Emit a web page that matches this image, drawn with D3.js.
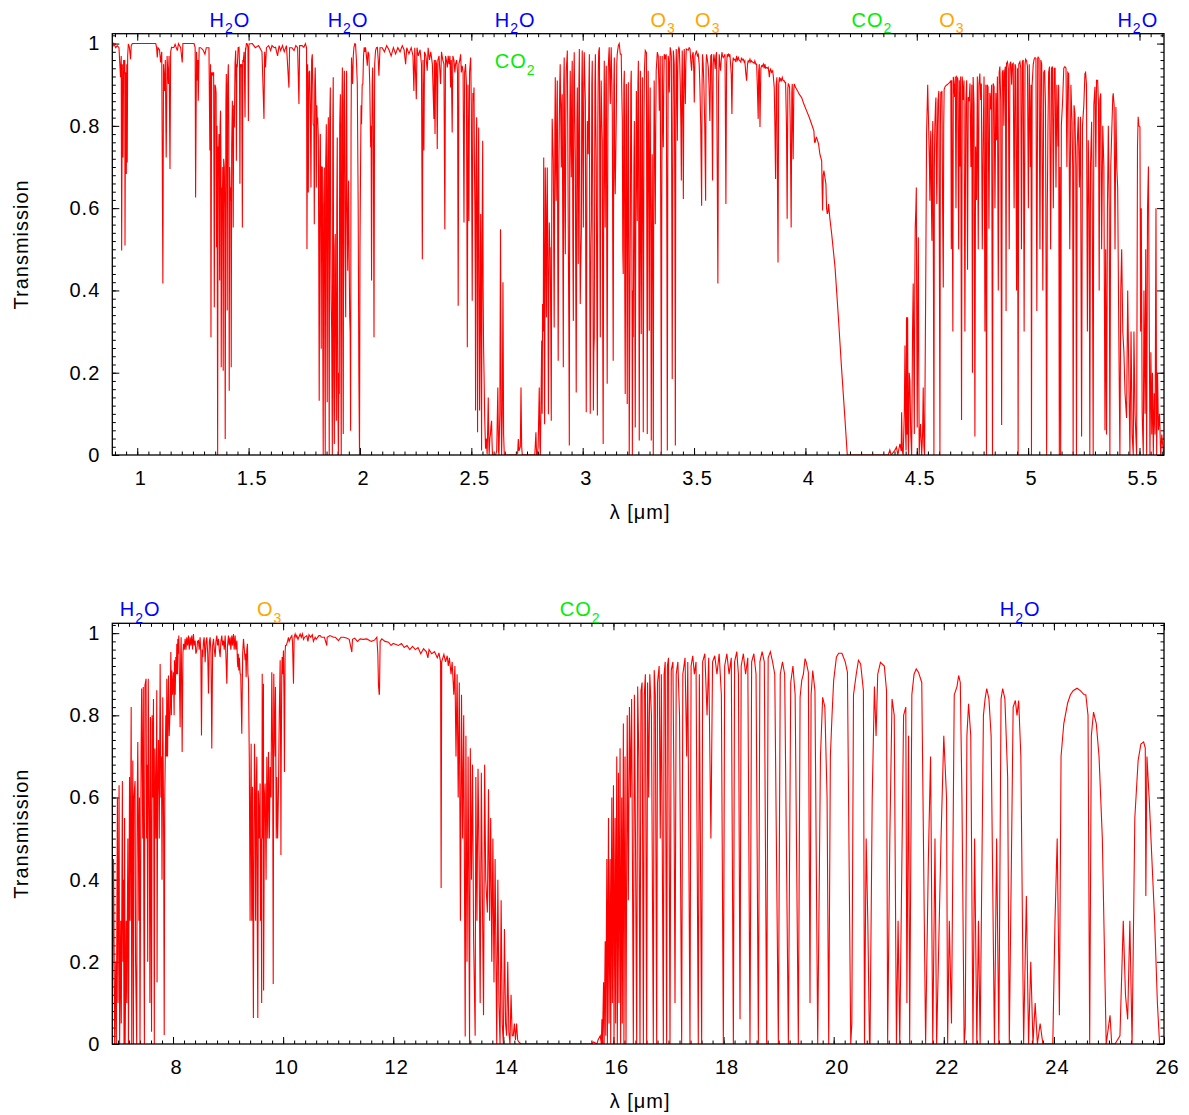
<!DOCTYPE html>
<html>
<head>
<meta charset="utf-8">
<script src="https://cdn.jsdelivr.net/npm/d3@7"></script>
<style>
body { margin: 0; background: #fff; }
text { font-family: "Liberation Sans", Arial, Helvetica, sans-serif; letter-spacing: 1px; }
</style>
</head>
<body>
<script>
// ---- Data: [wavelength (um), transmission] ----
var topBand1 = [
 [0.888,0.99],[0.895,1.0],[0.903,0.99],[0.910,0.995],[0.918,0.99],[0.921,0.958],[0.925,0.918],[0.928,0.97],[0.930,0.497],[0.933,0.95],
 [0.936,0.723],[0.939,0.96],[0.942,0.926],[0.944,0.96],[0.945,0.509],[0.948,0.93],[0.951,0.683],[0.953,0.95],[0.955,0.711],[0.957,0.97],
 [0.960,0.999],[0.965,0.99],[0.970,0.962],[0.973,0.995],[0.978,1.0],[1.038,1.0],[1.083,1.0],[1.087,0.99],[1.090,0.966],[1.093,0.99],
 [1.100,0.985],[1.105,0.954],[1.110,0.98],[1.115,0.417],[1.118,0.95],[1.123,0.885],[1.126,0.96],[1.130,0.723],[1.134,0.97],[1.139,0.902],
 [1.143,0.97],[1.147,0.695],[1.150,0.98],[1.154,0.991],[1.160,0.99],[1.165,0.991],[1.170,0.998],[1.180,0.983],[1.185,1.0],[1.195,0.99],
 [1.202,0.954],[1.205,1.0],[1.255,1.0],[1.260,0.99],[1.262,0.626],[1.266,0.98],[1.270,0.91],[1.272,0.96],[1.274,0.861],[1.278,0.99],
 [1.285,0.99],[1.295,0.985],[1.304,0.974],[1.310,0.99],[1.322,0.99],[1.326,0.740],[1.329,0.95],[1.331,0.286],[1.334,0.93],[1.337,0.926],
 [1.339,0.93],[1.341,0.922],[1.343,0.93],[1.346,0.359],[1.349,0.90],[1.352,0.893],[1.354,0.88],[1.356,0.505],[1.358,0.80],[1.361,0],
 [1.363,0.75],[1.365,0.715],[1.367,0.78],[1.370,0.424],[1.372,0.80],[1.374,0.837],[1.376,0.70],[1.377,0.213],[1.380,0.65],[1.382,0.594],
 [1.384,0.70],[1.386,0.205],[1.388,0.72],[1.391,0.699],[1.393,0.60],[1.395,0.039],[1.398,0.85],[1.400,0.926],[1.402,0.80],[1.404,0.351],
 [1.406,0.90],[1.409,0.950],[1.411,0.80],[1.413,0.156],[1.415,0.70],[1.418,0.618],[1.420,0.65],[1.422,0.213],[1.424,0.75],[1.427,0.861],
 [1.429,0.75],[1.431,0.553],[1.433,0.85],[1.436,0.796],[1.439,0.95],[1.442,0.983],[1.444,0.90],[1.445,0.715],[1.447,0.95],[1.449,0.942],
 [1.453,0.99],[1.457,0.991],[1.459,0.95],[1.461,0.659],[1.463,0.95],[1.466,0.942],[1.469,0.95],[1.472,0.553],[1.474,0.96],[1.476,0.958],
 [1.480,0.98],[1.484,0.821],[1.486,0.99],[1.487,0.983],[1.490,1.0],[1.494,0.999],[1.497,0.99],[1.499,0.812],[1.501,0.99],[1.502,0.999],
 [1.517,1.0],[1.530,0.99],[1.545,0.995],[1.560,0.98],[1.569,0.817],[1.572,0.98],[1.576,0.942],[1.580,0.99],[1.590,0.995],[1.599,0.983],
 [1.605,0.995],[1.615,0.99],[1.621,0.991],[1.630,0.97],[1.637,0.995],[1.644,0.983],[1.652,0.995],[1.660,0.98],[1.670,0.995],[1.681,0.893],
 [1.684,0.99],[1.695,0.99],[1.704,0.983],[1.712,0.995],[1.720,0.99],[1.726,0.853],[1.729,0.995],[1.740,0.995],[1.748,0.991],[1.755,1.0],
 [1.760,0.99],[1.762,0.501],[1.765,0.95],[1.768,0.638],[1.771,0.93],[1.774,0.934],[1.777,0.85],[1.780,0.650],[1.783,0.96],[1.786,0.974],
 [1.788,0.90],[1.790,0.804],[1.793,0.80],[1.795,0.561],[1.797,0.90],[1.799,0.942],[1.802,0.85],[1.804,0.650],[1.806,0.85],[1.808,0.804],
 [1.810,0.82],[1.813,0.772],[1.815,0.5],[1.817,0.132],[1.820,0.70],[1.822,0.780],[1.824,0.6],[1.826,0.258],[1.828,0.7],[1.831,0.699],
 [1.833,0.3],[1.835,0],[1.837,0.6],[1.840,0.699],[1.842,0.3],[1.844,0],[1.846,0.7],[1.849,0.804],[1.851,0.4],[1.853,0.128],
 [1.855,0.7],[1.858,0.821],[1.860,0.4],[1.862,0],[1.864,0.8],[1.867,0.893],[1.869,0.5],[1.871,0.375],[1.873,0.3],[1.876,0],
 [1.878,0.8],[1.880,0.918],[1.882,0.2],[1.885,0.027],[1.887,0.5],[1.889,0.537],[1.891,0.3],[1.894,0.083],[1.896,0.6],[1.898,0.772],
 [1.900,0.2],[1.903,0],[1.905,0.2],[1.907,0.148],[1.909,0.8],[1.912,0.877],[1.914,0.3],[1.916,0],[1.918,0.8],[1.921,0.942],
 [1.923,0.3],[1.925,0.051],[1.927,0.85],[1.930,0.934],[1.933,0.5],[1.936,0.335],[1.938,0.8],[1.940,0.934],[1.942,0.6],[1.945,0.448],
 [1.947,0.6],[1.949,0.667],[1.951,0.5],[1.954,0.335],[1.956,0.3],[1.958,0.059],[1.960,0.8],[1.962,0.966],[1.965,0.93],[1.967,0.902],
 [1.970,0.97],[1.973,0.991],[1.977,1.0],[1.980,0.999],[1.984,0.96],[1.988,0.902],[1.992,0.6],[1.995,0.2],[1.998,0],[2.000,0.5],
 [2.003,0.723],[2.005,0.85],[2.007,0.804],[2.010,0.9],[2.013,0.902],[2.016,0.97],[2.019,0.991],[2.022,0.98],[2.025,0.991],[2.029,0.97],
 [2.033,0.946],[2.036,0.98],[2.040,0.974],[2.044,0.9],[2.048,0.748],[2.050,0.8],[2.052,0.424],[2.055,0.9],[2.057,0.942],[2.060,0.8],
 [2.063,0.286],[2.066,0.95],[2.070,0.983],[2.074,0.99],[2.078,0.991],[2.082,0.96],[2.085,0.922],[2.090,0.99],[2.100,0.99],[2.110,0.98],
 [2.120,0.995],[2.130,0.985],[2.140,0.97],[2.150,0.99],[2.160,0.975],[2.170,0.99],[2.180,0.98],[2.190,0.995],[2.198,0.985],[2.205,0.950],
 [2.210,0.99],[2.220,0.975],[2.230,0.99],[2.238,0.97],[2.242,0.885],[2.246,0.99],[2.253,0.865],[2.256,0.99],[2.262,0.97],[2.270,0.985],
 [2.276,0.95],[2.280,0.476],[2.283,0.96],[2.287,0.740],[2.290,0.98],[2.296,0.97],[2.302,0.934],[2.306,0.99],[2.312,0.96],[2.318,0.98],
 [2.325,0.95],[2.332,0.817],[2.334,0.96],[2.337,0.780],[2.340,0.96],[2.344,0.95],[2.347,0.744],[2.350,0.96],[2.355,0.97],[2.362,0.902],
 [2.366,0.98],[2.372,0.96],[2.377,0.95],[2.381,0.549],[2.384,0.97],[2.388,0.96],[2.392,0.942],[2.396,0.97],[2.400,0.95],[2.404,0.97],
 [2.407,0.893],[2.410,0.96],[2.414,0.784],[2.417,0.97],[2.422,0.96],[2.426,0.93],[2.429,0.950],[2.434,0.96],[2.438,0.93],[2.441,0.363],
 [2.444,0.95],[2.448,0.96],[2.452,0.974],[2.455,0.93],[2.459,0.946],[2.463,0.93],[2.467,0.565],[2.470,0.93],[2.474,0.950],[2.478,0.90],
 [2.482,0.262],[2.485,0.90],[2.489,0.569],[2.492,0.93],[2.497,0.966],[2.500,0.85],[2.504,0.375],[2.507,0.88],[2.510,0.86],[2.512,0.893],
 [2.514,0.7],[2.516,0.602],[2.518,0.4],[2.519,0.108],[2.521,0.7],[2.524,0.821],[2.526,0.5],[2.528,0.055],[2.530,0.6],[2.533,0.796],
 [2.535,0.4],[2.537,0.108],[2.540,0.4],[2.542,0.586],[2.544,0.3],[2.546,0.011],[2.548,0.5],[2.551,0.764],[2.553,0.4],[2.555,0.262],
 [2.557,0.2],[2.560,0.092],[2.562,0.05],[2.564,0.015],[2.567,0.04],[2.571,0.002],[2.574,0.08],[2.576,0.140],[2.578,0.05],[2.580,0],
 [2.583,0.04],[2.586,0.051],[2.588,0.07],[2.591,0.083],[2.593,0.03],[2.595,0],[2.609,0],[2.614,0.01],[2.619,0.164],[2.622,0.01],
 [2.624,0],[2.628,0.1],[2.631,0.549],[2.634,0.1],[2.636,0],[2.639,0.1],[2.642,0.420],[2.645,0.05],[2.648,0],[2.700,0],
 [2.708,0.005],[2.711,0.039],[2.714,0.01],[2.720,0.02],[2.723,0.164],[2.726,0.02],[2.729,0],[2.751,0]
];

var topBand2 = [
 [2.785,0],[2.790,0.055],[2.793,0],[2.796,0],[2.800,0.02],[2.805,0.164],[2.808,0.02],[2.810,0],[2.816,0.278],[2.818,0.1],
 [2.820,0.367],[2.823,0.3],[2.825,0.723],[2.827,0.3],[2.829,0.075],[2.831,0.5],[2.832,0.699],[2.835,0.5],[2.837,0.335],[2.839,0.6],
 [2.841,0.699],[2.844,0.4],[2.846,0.099],[2.848,0.4],[2.850,0.565],[2.852,0.5],[2.854,0.505],[2.857,0.3],[2.859,0.083],[2.861,0.6],
 [2.863,0.817],[2.866,0.75],[2.868,0.715],[2.870,0.5],[2.872,0.310],[2.875,0.8],[2.877,0.918],[2.879,0.7],[2.881,0.618],[2.884,0.85],
 [2.886,0.910],[2.888,0.5],[2.890,0.229],[2.893,0.7],[2.895,0.804],[2.897,0.9],[2.899,0.950],[2.902,0.8],[2.904,0.699],[2.906,0.85],
 [2.908,0.877],[2.911,0.5],[2.913,0.213],[2.915,0.9],[2.917,0.966],[2.920,0.6],[2.922,0.488],[2.924,0.8],[2.926,0.934],[2.929,0.96],
 [2.931,0.983],[2.933,0.8],[2.935,0.569],[2.938,0.3],[2.940,0.023],[2.942,0.8],[2.944,0.934],[2.947,0.75],[2.949,0.675],[2.951,0.9],
 [2.953,0.958],[2.956,0.5],[2.958,0.326],[2.960,0.9],[2.962,0.979],[2.965,0.8],[2.967,0.715],[2.969,0.4],[2.971,0.152],[2.974,0.8],
 [2.976,0.893],[2.978,0.7],[2.980,0.464],[2.983,0.9],[2.985,0.987],[2.987,0.6],[2.989,0.367],[2.991,0.45],[2.994,0.545],[2.996,0.9],
 [2.998,0.983],[3.001,0.7],[3.003,0.553],[3.005,0.9],[3.007,0.979],[3.010,0.9],[3.012,0.861],[3.014,0.4],[3.016,0.104],[3.019,0.7],
 [3.021,0.812],[3.023,0.75],[3.025,0.731],[3.028,0.9],[3.030,0.974],[3.032,0.4],[3.034,0.100],[3.037,0.5],[3.039,0.569],[3.041,0.9],
 [3.043,0.958],[3.046,0.5],[3.048,0.108],[3.050,0.25],[3.052,0.286],[3.055,0.9],[3.057,0.974],[3.059,0.8],[3.061,0.699],[3.064,0.3],
 [3.066,0.096],[3.068,0.8],[3.070,0.934],[3.072,0.98],[3.075,0.991],[3.077,0.6],[3.079,0.286],[3.081,0.8],[3.083,0.910],[3.086,0.8],
 [3.088,0.764],[3.090,0.3],[3.092,0.027],[3.095,0.8],[3.097,0.958],[3.099,0.7],[3.101,0.553],[3.104,0.9],[3.106,0.946],[3.108,0.5],
 [3.110,0.173],[3.113,0.8],[3.115,0.942],[3.117,0.97],[3.119,0.991],[3.122,0.9],[3.124,0.853],[3.126,0.95],[3.128,0.991],[3.131,0.9],
 [3.133,0.829],[3.135,0.5],[3.137,0.229],[3.140,0.9],[3.142,0.966],[3.144,0.7],[3.146,0.634],[3.149,0.75],[3.151,0.829],[3.153,0.95],
 [3.155,0.974],[3.160,0.995],[3.164,1.0],[3.169,0.974],[3.173,0.974],[3.175,0.9],[3.178,0.812],[3.180,0.5],[3.182,0.440],[3.185,0.9],
 [3.187,0.934],[3.189,0.4],[3.191,0.148],[3.194,0.8],[3.196,0.902],[3.198,0.5],[3.200,0.124],[3.203,0.8],[3.205,0.906],[3.207,0.5],
 [3.209,0],[3.212,0.4],[3.214,0.586],[3.216,0.9],[3.218,0.934],[3.221,0.5],[3.223,0],[3.225,0.4],[3.227,0.286],[3.230,0.7],
 [3.232,0.812],[3.234,0.4],[3.236,0.067],[3.239,0.7],[3.241,0.885],[3.243,0.7],[3.245,0.569],[3.248,0.9],[3.250,0.958],[3.252,0.5],
 [3.254,0.035],[3.257,0.7],[3.259,0.934],[3.261,0.5],[3.263,0.294],[3.266,0.8],[3.268,0.918],[3.270,0.5],[3.272,0.055],[3.275,0.8],
 [3.277,0.930],[3.279,0.96],[3.281,0.983],[3.284,0.98],[3.286,0.979],[3.288,0.5],[3.290,0.051],[3.292,0.8],[3.294,0.934],[3.297,0.6],
 [3.299,0.302],[3.301,0.8],[3.303,0.893],[3.306,0.5],[3.308,0.035],[3.310,0.5],[3.312,0.731],[3.315,0.4],[3.317,0],[3.319,0.7],
 [3.321,0.910],[3.324,0.7],[3.326,0.561],[3.328,0.8],[3.330,0.934],[3.333,0.96],[3.335,0.979],[3.337,0.975],[3.339,0.970],[3.342,0.9],
 [3.344,0.837],[3.346,0.9],[3.348,0.970],[3.351,0.5],[3.353,0],[3.355,0.6],[3.357,0.970],[3.359,0.85],[3.362,0.748],[3.364,0.9],
 [3.366,0.974],[3.369,0.97],[3.371,0.962],[3.373,0.97],[3.375,0.974],[3.378,0.5],[3.380,0.011],[3.382,0.7],[3.384,0.970],[3.387,0.95],
 [3.389,0.881],[3.391,0.95],[3.393,0.991],[3.396,0.98],[3.398,0.970],[3.400,0.6],[3.402,0.185],[3.405,0.8],[3.407,0.983],[3.409,0.97],
 [3.411,0.950],[3.414,0.6],[3.416,0.023],[3.418,0.8],[3.420,0.987],[3.423,0.9],[3.425,0.764],[3.427,0.95],[3.429,0.984],[3.432,0.99],
 [3.434,0.987],[3.436,0.95],[3.438,0.902],[3.441,0.8],[3.443,0.667],[3.445,0.9],[3.447,0.983],[3.450,0.8],[3.452,0.622],[3.454,0.9],
 [3.456,0.987],[3.459,0.9],[3.461,0.853],[3.463,0.95],[3.465,0.987],[3.474,0.984],[3.478,0.99],[3.482,0.987],[3.485,0.96],[3.489,0.934],
 [3.492,0.97],[3.496,0.979],[3.499,0.93],[3.501,0.857],[3.504,0.97],[3.511,0.983],[3.515,0.97],[3.519,0.974],[3.523,0.95],[3.526,0.902],
 [3.530,0.8],[3.534,0.606],[3.536,0.9],[3.538,0.974],[3.541,0.95],[3.544,0.902],[3.548,0.8],[3.552,0.618],[3.554,0.95],[3.556,0.974],
 [3.560,0.96],[3.564,0.942],[3.567,0.9],[3.571,0.812],[3.575,0.97],[3.579,0.974],[3.581,0.8],[3.583,0.667],[3.586,0.95],[3.589,0.974],
 [3.592,0.96],[3.595,0.938],[3.598,0.97],[3.601,0.979],[3.604,0.7],[3.607,0.417],[3.610,0.9],[3.613,0.974],[3.616,0.95],[3.619,0.934],
 [3.622,0.96],[3.625,0.979],[3.628,0.97],[3.631,0.966],[3.635,0.97],[3.639,0.974],[3.641,0.8],[3.643,0.610],[3.646,0.95],[3.649,0.974],
 [3.652,0.97],[3.655,0.974],[3.658,0.97],[3.661,0.974],[3.664,0.95],[3.667,0.926],[3.670,0.829],[3.673,0.95],[3.676,0.966],[3.680,0.96],
 [3.684,0.962],[3.688,0.955],[3.691,0.970],[3.695,0.96],[3.699,0.966],[3.702,0.96],[3.706,0.958],[3.710,0.955],[3.713,0.966],[3.717,0.96],
 [3.721,0.962],[3.725,0.955],[3.728,0.958],[3.732,0.93],[3.736,0.910],[3.740,0.95],[3.743,0.958],[3.747,0.955],[3.751,0.962],[3.755,0.955],
 [3.758,0.958],[3.762,0.955],[3.766,0.954],[3.770,0.952],[3.773,0.958],[3.777,0.95],[3.781,0.950],[3.784,0.9],[3.788,0.817],[3.790,0.93],
 [3.793,0.950],[3.795,0.85],[3.796,0.797],[3.800,0.94],[3.803,0.946],[3.807,0.945],[3.811,0.950],[3.815,0.94],[3.818,0.950],[3.822,0.94],
 [3.826,0.942],[3.830,0.94],[3.833,0.942],[3.836,0.93],[3.838,0.918],[3.841,0.935],[3.844,0.938],[3.848,0.93],[3.853,0.934],[3.856,0.92],
 [3.860,0.893],[3.863,0.8],[3.866,0.671],[3.869,0.9],[3.872,0.918],[3.874,0.7],[3.877,0.468],[3.880,0.9],[3.883,0.918],[3.886,0.91],
 [3.889,0.914],[3.892,0.91],[3.896,0.918],[3.900,0.91],[3.904,0.910],[3.907,0.906],[3.911,0.906],[3.915,0.8],[3.918,0.574],[3.921,0.89],
 [3.923,0.902],[3.926,0.9],[3.929,0.893],[3.932,0.8],[3.936,0.553],[3.939,0.88],[3.941,0.902],[3.943,0.8],[3.945,0.719],[3.948,0.89],
 [3.950,0.902],[3.956,0.893],[3.965,0.885],[3.972,0.877],[3.983,0.869],[3.993,0.853],[4.005,0.837],[4.017,0.821],[4.028,0.804],[4.038,0.788],
 [4.041,0.76],[4.044,0.760],[4.047,0.77],[4.050,0.772],[4.059,0.756],[4.065,0.731],[4.073,0.715],[4.075,0.65],[4.077,0.594],[4.080,0.68],
 [4.083,0.691],[4.092,0.659],[4.095,0.60],[4.098,0.586],[4.101,0.59],[4.104,0.610],[4.110,0.574],[4.118,0.537],[4.133,0.456],[4.148,0.335],
 [4.162,0.213],[4.177,0.092],[4.188,0],[4.372,0],[4.379,0.012],[4.385,0],[4.400,0.01],[4.409,0.019],[4.415,0],[4.424,0.027],
 [4.430,0.01],[4.432,0.104],[4.435,0.01],[4.439,0],[4.444,0.1],[4.447,0.266],[4.450,0.05],[4.452,0.011],[4.454,0.335],[4.457,0.05],
 [4.459,0.335],[4.461,0.05],[4.463,0],[4.466,0.2],[4.469,0.181],[4.473,0.05],[4.477,0],[4.481,0.3],[4.484,0.417],[4.487,0.2],
 [4.489,0.051],[4.491,0.4],[4.493,0.553],[4.496,0.6],[4.498,0.650],[4.500,0.3],[4.502,0.067],[4.505,0.4],[4.507,0.529],[4.509,0.2],
 [4.511,0],[4.514,0.05],[4.517,0.075],[4.520,0.03],[4.522,0],[4.526,0.05],[4.529,0.164],[4.532,0.02],[4.535,0],[4.540,0.4],
 [4.544,0.780],[4.549,0.9],[4.554,0.780],[4.557,0.7],[4.559,0.618],[4.561,0.75],[4.563,0.788],[4.566,0.6],[4.568,0.521],[4.570,0.75],
 [4.572,0.812],[4.575,0.4],[4.577,0],[4.579,0.7],[4.581,0.796],[4.584,0.85],[4.586,0.869],[4.588,0.7],[4.590,0.610],[4.593,0.8],
 [4.595,0.861],[4.597,0.87],[4.599,0.885],[4.602,0.4],[4.604,0],[4.606,0.8],[4.608,0.881],[4.611,0.88],[4.613,0.885],[4.616,0.6],
 [4.619,0.407],[4.621,0.8],[4.623,0.889],[4.627,0.895],[4.631,0.898],[4.636,0.9],[4.641,0.902],[4.645,0.904]
];

var topBand3 = [
 [4.649,0.906],[4.653,0.91],[4.655,0.5],[4.657,0.911],[4.662,0.3],[4.664,0.919],[4.667,0.9],[4.670,0.870],[4.673,0.92],[4.676,0.6],
 [4.679,0.919],[4.684,0.915],[4.688,0.5],[4.691,0.911],[4.694,0.701],[4.697,0.92],[4.701,0.085],[4.704,0.92],[4.709,0.863],[4.712,0.91],
 [4.716,0.3],[4.720,0.85],[4.724,0.911],[4.728,0.45],[4.731,0.87],[4.735,0.86],[4.739,0.903],[4.743,0.70],[4.747,0.9],[4.750,0.2],
 [4.753,0.919],[4.757,0.85],[4.761,0.045],[4.764,0.75],[4.768,0.620],[4.772,0.92],[4.776,0.5],[4.779,0.90],[4.783,0.927],[4.787,0.863],
 [4.790,0.903],[4.794,0.5],[4.798,0.765],[4.802,0.92],[4.806,0.3],[4.810,0.9],[4.813,0],[4.816,0.9],[4.820,0.895],[4.824,0.55],
 [4.828,0.88],[4.832,0.84],[4.836,0.9],[4.840,0],[4.843,0.903],[4.847,0.895],[4.851,0.6],[4.855,0.88],[4.858,0.765],[4.862,0.92],
 [4.866,0.40],[4.870,0.93],[4.873,0.944],[4.877,0.86],[4.881,0.073],[4.884,0.93],[4.888,0.936],[4.891,0.8],[4.894,0.93],[4.898,0.944],
 [4.901,0.35],[4.903,0.952],[4.907,0.956],[4.911,0.94],[4.915,0.5],[4.918,0.95],[4.922,0.956],[4.926,0.9],[4.929,0.95],[4.933,0.952],
 [4.937,0.6],[4.941,0.95],[4.944,0.944],[4.948,0.4],[4.952,0.94],[4.955,0],[4.958,0.95],[4.963,0.956],[4.967,0.94],[4.970,0.5],
 [4.974,0.956],[4.978,0.960],[4.982,0.3],[4.986,0.95],[4.989,0.962],[4.993,0.958],[4.997,0.944],[5.001,0.6],[5.005,0.95],[5.010,0.7],
 [5.013,0.9],[5.015,0],[5.018,0.9],[5.023,0.95],[5.027,0.962],[5.031,0.966],[5.035,0.964],[5.039,0.35],[5.043,0.964],[5.045,0.967],
 [5.049,0.964],[5.053,0.5],[5.057,0.96],[5.061,0.95],[5.066,0.4],[5.070,0.93],[5.074,0.935],[5.078,0.85],[5.083,0],[5.086,0.6],
 [5.089,0.798],[5.092,0.93],[5.096,0.944],[5.101,0.5],[5.105,0.94],[5.109,0.944],[5.113,0.6],[5.117,0.94],[5.121,0.940],[5.125,0.65],
 [5.129,0.9],[5.134,0.75],[5.137,0.9],[5.140,0],[5.143,0.7],[5.146,0],[5.149,0.8],[5.155,0.863],[5.160,0.94],[5.165,0.944],
 [5.170,0.940],[5.174,0.7],[5.178,0.93],[5.182,0.927],[5.187,0.5],[5.192,0.9],[5.197,0.810],[5.200,0.7],[5.202,0],[5.206,0.85],
 [5.210,0.830],[5.214,0.7],[5.217,0],[5.220,0.75],[5.225,0.822],[5.230,0.65],[5.235,0.822],[5.240,0.045],[5.244,0.8],[5.250,0.85],
 [5.255,0.927],[5.258,0.93],[5.262,0.9],[5.266,0.3],[5.270,0.765],[5.274,0.6],[5.277,0],[5.280,0.7],[5.285,0.81],[5.288,0.6],
 [5.292,0],[5.295,0.85],[5.300,0.895],[5.304,0.7],[5.307,0.911],[5.312,0.911],[5.316,0.85],[5.319,0.4],[5.322,0.863],[5.326,0.879],
 [5.330,0.5],[5.335,0.8],[5.340,0.7],[5.345,0.06],[5.348,0.5],[5.352,0.05],[5.356,0.6],[5.360,0.80],[5.364,0.6],[5.367,0],
 [5.371,0.7],[5.376,0.798],[5.380,0.870],[5.382,0.879],[5.386,0.85],[5.390,0.5],[5.394,0.846],[5.398,0.7],[5.402,0.65],[5.407,0.3],
 [5.412,0],[5.416,0.4],[5.420,0.5],[5.425,0.3],[5.430,0.25],[5.435,0.15],[5.442,0.09],[5.447,0.4],[5.452,0.2],[5.457,0],
 [5.462,0.3],[5.467,0.05],[5.472,0],[5.475,0.3],[5.480,0.1],[5.487,0],[5.491,0.75],[5.494,0.822],[5.497,0.8],[5.502,0.798],
 [5.505,0.3],[5.508,0.6],[5.512,0.1],[5.517,0],[5.520,0.4],[5.525,0.1],[5.528,0.5],[5.532,0],[5.536,0.6],[5.540,0.701],
 [5.544,0.3],[5.547,0],[5.551,0.25],[5.555,0.05],[5.558,0.2],[5.562,0],[5.566,0.15],[5.570,0.05],[5.574,0.6],[5.577,0],
 [5.581,0.2],[5.585,0.06],[5.590,0.1],[5.595,0],[5.600,0.05],[5.605,0.02],[5.610,0]
];

var botBand1 = [
 [6.90,0.1],[6.92,0.45],[6.94,0],[6.96,0.2],[6.97,0],[6.99,0.60],[7.00,0.1],[7.02,0.63],[7.03,0],[7.05,0.3],
 [7.06,0.05],[7.08,0.64],[7.09,0.2],[7.10,0.4],[7.11,0],[7.12,0.55],[7.13,0],[7.15,0.3],[7.16,0.1],[7.18,0.5],
 [7.19,0],[7.21,0.65],[7.22,0.3],[7.24,0.82],[7.25,0],[7.26,0.5],[7.27,0.69],[7.28,0],[7.29,0.6],[7.31,0.64],
 [7.32,0.2],[7.34,0],[7.35,0.6],[7.36,0.735],[7.38,0.3],[7.39,0.60],[7.40,0],[7.42,0.7],[7.43,0.865],[7.45,0.5],
 [7.46,0.869],[7.47,0.3],[7.48,0],[7.49,0.873],[7.51,0.889],[7.52,0.5],[7.53,0.68],[7.54,0.2],[7.55,0.889],[7.57,0.5],
 [7.58,0.10],[7.59,0.796],[7.61,0.03],[7.62,0.80],[7.63,0.6],[7.645,0.84],[7.66,0],[7.67,0.719],[7.69,0.5],[7.705,0.861],
 [7.71,0.15],[7.72,0.6],[7.736,0.74],[7.75,0.5],[7.766,0.925],[7.78,0.6],[7.79,0.70],[7.80,0.4],[7.814,0.844],[7.83,0.5],
 [7.84,0.022],[7.85,0.6],[7.869,0.80],[7.88,0.7],[7.887,0.889],[7.90,0.7],[7.917,0.897],[7.93,0.75],[7.948,0.82],[7.96,0.954],
 [7.97,0.8],[7.978,0.909],[7.99,0.85],[8.008,0.905],[8.02,0.8],[8.026,0.934],[8.04,0.85],[8.05,0.942],[8.06,0.9],[8.069,0.974],
 [8.08,0.9],[8.087,0.986],[8.095,0.95],[8.105,0.994],[8.115,0.9],[8.129,0.771],[8.14,0.95],[8.147,0.99],[8.155,0.9],[8.166,0.711],
 [8.18,0.95],[8.19,0.974],[8.205,0.96],[8.22,0.986],[8.235,0.96],[8.25,0.99],[8.265,0.97],[8.281,0.994],[8.295,0.96],[8.311,0.99],
 [8.325,0.97],[8.341,0.994],[8.355,0.96],[8.371,0.998],[8.385,0.97],[8.402,0.982],[8.415,0.95],[8.432,0.958],[8.445,0.98],[8.462,0.982],
 [8.475,0.96],[8.492,0.99],[8.505,0.95],[8.517,0.751],[8.53,0.96],[8.541,0.942],[8.553,0.98],[8.565,0.99],[8.575,0.96],[8.583,0.929],
 [8.60,0.98],[8.614,0.99],[8.63,0.95],[8.644,0.853],[8.66,0.98],[8.674,0.99],[8.69,0.95],[8.704,0.719],[8.72,0.97],[8.735,0.986],
 [8.75,0.96],[8.765,0.942],[8.78,0.98],[8.795,0.994],[8.81,0.97],[8.826,0.986],[8.84,0.96],[8.856,0.942],[8.87,0.98],[8.886,0.994],
 [8.90,0.97],[8.916,0.982],[8.93,0.96],[8.947,0.994],[8.96,0.95],[8.977,0.877],[8.99,0.97],[9.007,0.994],[9.02,0.97],[9.037,0.99],
 [9.05,0.96],[9.068,0.994],[9.08,0.97],[9.098,0.998],[9.11,0.96],[9.128,0.994],[9.14,0.96],[9.159,0.982],[9.17,0.93],[9.177,0.917],
 [9.185,0.95],[9.195,0.909],[9.205,0.94],[9.219,0.901],[9.23,0.90],[9.249,0.755],[9.265,0.95],[9.28,0.986],[9.295,0.96],[9.31,0.934],
 [9.32,0.95],[9.328,0.893],[9.34,0.96],[9.352,0.974],[9.36,0.9],[9.37,0.889],[9.385,0.7],[9.40,0.3],[9.41,0.6],[9.419,0.731],
 [9.43,0.3],[9.443,0.626],[9.455,0.2],[9.46,0.063],[9.47,0.5],[9.48,0.731],[9.49,0.642],[9.50,0.3],[9.51,0.6],[9.522,0.699],
 [9.53,0.3],[9.54,0.063],[9.55,0.617],[9.565,0.5],[9.582,0.634],[9.59,0.3],[9.60,0.5],[9.61,0.10],[9.62,0.901],[9.63,0.5],
 [9.643,0.877],[9.645,0.13],[9.66,0.6],[9.673,0.634],[9.69,0.4],[9.704,0.699],[9.72,0.5],[9.734,0.711],[9.75,0.5],[9.764,0.674],
 [9.78,0.6],[9.794,0.905],[9.81,0.7],[9.82,0.146],[9.83,0.901],[9.843,0.763],[9.855,0.7],[9.861,0.869],[9.875,0.5],[9.885,0.650],
 [9.90,0.5],[9.915,0.617],[9.93,0.8],[9.946,0.934],[9.955,0.7],[9.960,0.46],[9.964,0.658],[9.975,0.9],[9.982,0.942],[9.99,0.9],
 [10.006,0.958],[10.015,0.85],[10.024,0.662],[10.035,0.95],[10.043,0.970],[10.055,0.97],[10.067,0.974],[10.08,0.98],[10.097,0.990],[10.11,0.98],
 [10.127,0.986],[10.14,0.99],[10.158,0.994],[10.17,0.98],[10.188,0.877],[10.20,0.99],[10.218,0.998],[10.235,0.99],[10.248,0.994],[10.27,0.985],
 [10.309,0.998],[10.33,0.99],[10.35,0.998],[10.37,0.985],[10.39,0.99],[10.43,0.994],[10.45,0.98],[10.47,0.996],[10.50,0.99],[10.53,0.996],
 [10.55,0.98],[10.581,0.99],[10.60,0.985],[10.65,0.994],[10.672,0.994],[10.70,0.99],[10.75,0.99],[10.793,0.97],[10.80,0.99],[10.85,0.994],
 [10.915,0.99],[10.95,0.99],[11.005,0.982],[11.05,0.99],[11.096,0.99],[11.15,0.988],[11.20,0.985],[11.248,0.954],[11.26,0.985],[11.30,0.988],
 [11.35,0.98],[11.399,0.986],[11.45,0.985],[11.52,0.986],[11.60,0.98],[11.66,0.983],[11.702,0.99],[11.72,0.95],[11.732,0.873],[11.745,0.85],
 [11.75,0.853],[11.762,0.98],[11.792,0.986],[11.85,0.98],[11.914,0.978],[11.96,0.97],[12.0,0.975],[12.095,0.970]
];

var botBand2 = [
 [12.15,0.975],[12.20,0.965],[12.25,0.97],[12.30,0.96],[12.35,0.968],[12.40,0.96],[12.45,0.965],[12.50,0.95],[12.55,0.962],[12.60,0.955],
 [12.63,0.94],[12.65,0.96],[12.70,0.95],[12.75,0.955],[12.80,0.94],[12.83,0.952],[12.86,0.93],[12.87,0.38],[12.88,0.93],[12.92,0.948],
 [12.95,0.93],[12.98,0.945],[13.00,0.92],[13.02,0.94],[13.05,0.9],[13.07,0.93],[13.10,0.85],[13.12,0.92],[13.14,0.7],[13.16,0.9],
 [13.18,0.6],[13.20,0.88],[13.22,0.3],[13.24,0.85],[13.26,0.5],[13.28,0.8],[13.307,0.018],[13.32,0.75],[13.34,0.2],[13.36,0.7],
 [13.386,0],[13.40,0.72],[13.42,0.4],[13.44,0.68],[13.46,0.25],[13.488,0.02],[13.50,0.65],[13.52,0.3],[13.54,0.67],[13.56,0.45],
 [13.579,0.10],[13.60,0.66],[13.62,0.35],[13.64,0.07],[13.66,0.68],[13.68,0.4],[13.71,0.32],[13.73,0.62],[13.75,0.3],[13.77,0.55],
 [13.79,0.2],[13.81,0.5],[13.83,0.15],[13.85,0.45],[13.88,0],[13.90,0.4],[13.92,0.1],[13.94,0],[13.96,0.35],[13.98,0.05],
 [14.00,0],[14.02,0.28],[14.04,0.05],[14.06,0.02],[14.08,0.2],[14.10,0.03],[14.12,0],[14.14,0.12],[14.16,0.02],[14.18,0.02],
 [14.20,0.05],[14.22,0.01],[14.24,0.05],[14.26,0.01],[14.28,0.005],[14.32,0],[15.60,0]
];

var botBand3 = [
 [15.64,0.005],[15.70,0],[15.72,0.01],[15.76,0.02],[15.78,0],[15.79,0.06],[15.80,0],[15.82,0.15],[15.83,0],[15.85,0.25],
 [15.86,0.02],[15.88,0.45],[15.89,0],[15.91,0.55],[15.92,0.05],[15.94,0.45],[15.95,0],[15.97,0.6],[15.98,0.1],[16.00,0.63],
 [16.01,0],[16.03,0.55],[16.04,0.05],[16.06,0.7],[16.07,0],[16.09,0.66],[16.10,0.1],[16.12,0.72],[16.13,0],[16.15,0.6],
 [16.16,0.05],[16.18,0.78],[16.19,0],[16.21,0.7],[16.228,0],[16.25,0.8],[16.27,0.35],[16.29,0.82],[16.31,0.6],[16.33,0.84],
 [16.361,0],[16.38,0.85],[16.40,0.5],[16.422,0],[16.44,0.87],[16.46,0.7],[16.482,0],[16.50,0.86],[16.52,0.88],[16.543,0],
 [16.56,0.85],[16.58,0.9],[16.603,0],[16.62,0.88],[16.64,0.6],[16.66,0.9],[16.69,0.8],[16.724,0],[16.74,0.91],[16.76,0.85],
 [16.785,0],[16.80,0.88],[16.83,0.92],[16.85,0.5],[16.87,0.9],[16.906,0],[16.92,0.9],[16.94,0.93],[16.966,0],[16.98,0.92],
 [17.00,0.94],[17.027,0],[17.05,0.91],[17.08,0.93],[17.10,0.6],[17.118,0.1],[17.14,0.9],[17.17,0.93],[17.20,0.8],[17.239,0],
 [17.26,0.9],[17.30,0.94],[17.33,0.7],[17.35,0.93],[17.390,0],[17.41,0.92],[17.44,0.945],[17.47,0.9],[17.50,0.93],[17.541,0],
 [17.56,0.9],[17.602,0],[17.62,0.93],[17.66,0.95],[17.70,0.8],[17.73,0.94],[17.77,0.5],[17.80,0.93],[17.84,0.945],[17.88,0.9],
 [17.92,0.95],[17.96,0.85],[17.996,0],[18.02,0.92],[18.06,0.95],[18.10,0.9],[18.14,0.94],[18.178,0],[18.20,0.93],[18.24,0.955],
 [18.27,0.9],[18.299,0.06],[18.32,0.92],[18.36,0.95],[18.40,0.9],[18.44,0.94],[18.480,0],[18.51,0.93],[18.55,0.95],[18.59,0.9],
 [18.632,0],[18.66,0.93],[18.70,0.955],[18.74,0.93],[18.783,0],[18.81,0.94],[18.85,0.955],[18.89,0.93],[18.93,0.9],[18.995,0],
 [19.03,0.9],[19.07,0.93],[19.11,0.9],[19.177,0],[19.22,0.88],[19.26,0.92],[19.30,0.85],[19.358,0],[19.39,0.844],[19.42,0.885],
 [19.45,0.90],[19.48,0.938],[19.50,0.93],[19.54,0.905],[19.57,0.10],[19.59,0.85],[19.62,0.909],[19.66,0.86],[19.71,0],[19.76,0.7],
 [19.80,0.844],[19.84,0.82],[19.88,0.6],[19.91,0],[19.94,0.7],[19.97,0.8],[20.00,0.885],[20.05,0.942],[20.09,0.951],[20.15,0.951],
 [20.21,0.93],[20.25,0.905],[20.31,0],[20.33,0.05],[20.36,0.85],[20.41,0.9],[20.45,0.934],[20.49,0.925],[20.54,0.86],[20.56,0],
 [20.59,0.5],[20.62,0.3],[20.65,0],[20.66,0],[20.70,0.6],[20.74,0.87],[20.77,0.75],[20.80,0.9],[20.85,0.929],[20.92,0.92],
 [20.96,0.86],[20.98,0],[21.02,0.5],[21.06,0.84],[21.10,0.8],[21.14,0],[21.17,0.3],[21.20,0],[21.27,0.8],[21.31,0.82],
 [21.33,0.10],[21.36,0.75],[21.38,0],[21.42,0.85],[21.46,0.9],[21.50,0.913],[21.54,0.905],[21.60,0.88],[21.67,0],[21.72,0.45],
 [21.76,0.7],[21.80,0],[21.84,0.5],[21.87,0],[21.95,0.5],[22.00,0.75],[22.05,0.6],[22.07,0],[22.10,0.3],[22.14,0.05],
 [22.19,0.85],[22.24,0.87],[22.27,0.897],[22.30,0.88],[22.33,0.6],[22.37,0],[22.39,0.04],[22.42,0.75],[22.45,0.828],[22.49,0.75],
 [22.53,0],[22.56,0.5],[22.60,0],[22.63,0.3],[22.66,0],[22.72,0.8],[22.75,0.84],[22.78,0.865],[22.82,0.84],[22.86,0.75],
 [22.92,0],[22.96,0.5],[23.00,0],[23.04,0.84],[23.07,0.865],[23.11,0.84],[23.16,0.65],[23.19,0],[23.26,0.82],[23.30,0.836],
 [23.33,0.8],[23.36,0.836],[23.40,0.7],[23.45,0],[23.50,0.36],[23.54,0],[23.58,0.2],[23.62,0],[23.66,0.1],[23.70,0],
 [23.75,0.05],[23.80,0],[23.98,0],[24.02,0.3],[24.06,0.5],[24.10,0.07],[24.13,0.7],[24.18,0.78],[24.25,0.83],[24.30,0.85],
 [24.35,0.86],[24.42,0.866],[24.48,0.86],[24.55,0.85],[24.58,0.85],[24.62,0.8],[24.65,0],[24.68,0.75],[24.72,0.808],[24.77,0.78],
 [24.82,0.7],[24.88,0.5],[24.95,0],[25.02,0.07],[25.05,0],[25.11,0],[25.20,0.02],[25.26,0.3],[25.30,0.12],[25.34,0.06],
 [25.38,0.3],[25.42,0],[25.47,0.55],[25.53,0.69],[25.58,0.73],[25.63,0.735],[25.66,0.72],[25.67,0.36],[25.69,0.70],[25.73,0.6],
 [25.78,0.45],[25.83,0.3],[25.88,0.1],[25.92,0],[26.0,0]
];

var topSpectrum = topBand1.concat(topBand2, topBand3);
var botSpectrum = botBand1.concat(botBand2, botBand3);

// molecule labels: [name, wavelength, colour, inside plot?]
var topMolecules = [
  ["H2O", 1.412, "blue"], ["H2O", 1.942, "blue"], ["H2O", 2.692, "blue"],
  ["O3", 3.357, "orange"], ["O3", 3.557, "orange"], ["CO2", 4.294, "green"],
  ["O3", 4.653, "orange"], ["H2O", 5.488, "blue"], ["CO2", 2.692, "green", true]
];
var botMolecules = [
  ["H2O", 7.385, "blue"], ["O3", 9.737, "orange"], ["CO2", 15.378, "green"], ["H2O", 23.37, "blue"]
];

var molColor = { blue: "#0000ff", orange: "#ffa500", green: "#00ee00" };

var yTicks = [0, 0.2, 0.4, 0.6, 0.8, 1];

var W = 1189, H = 1115;
var margin = { left: 112.3, right: 25 };

var svg = d3.select("body")
    .append("svg")
    .attr("width", W)
    .attr("height", H);

svg.append("rect").attr("width", W).attr("height", H).attr("fill", "#fff");

// chemical formula with subscripted digits
function formula(sel, name) {
  var parts = name.match(/[A-Za-z]+|\d+/g);
  var down = false;
  parts.forEach(function(p) {
    var isNum = /\d/.test(p);
    var t = sel.append("tspan").text(p);
    if (isNum) { t.attr("font-size", 14).attr("dy", 6.3); down = true; }
    else if (down) { t.attr("dy", -6.3); down = false; }
  });
}

function drawPanel(o) {
  var w = W - margin.left - margin.right,
      h = o.bottom - o.top;
  var g = svg.append("g").attr("transform", "translate(" + margin.left + "," + o.top + ")");

  var x = d3.scaleLinear().domain(o.xDomain).range([0, w]);
  var y = d3.scaleLinear().domain([0, 1.024]).range([h, 0]);

  var clipId = "clip" + o.id;
  g.append("clipPath").attr("id", clipId)
    .append("rect").attr("width", w).attr("height", h);

  // minor ticks (inward, mirrored)
  var yMinor = d3.range(0, 1.021, 0.02);
  g.append("g").attr("transform", "translate(0," + h + ")")
    .call(d3.axisBottom(x).tickValues(o.minor).tickSize(-3.5).tickFormat(""));
  g.append("g")
    .call(d3.axisTop(x).tickValues(o.minor).tickSize(-3.5).tickFormat(""));
  g.append("g")
    .call(d3.axisLeft(y).tickValues(yMinor).tickSize(-3.5).tickFormat(""));
  g.append("g").attr("transform", "translate(" + w + ",0)")
    .call(d3.axisRight(y).tickValues(yMinor).tickSize(-3.5).tickFormat(""));

  // major ticks
  g.append("g").attr("class", "xlab").attr("transform", "translate(0," + h + ")")
    .call(d3.axisBottom(x).tickValues(o.major).tickSizeInner(-7).tickSizeOuter(0).tickPadding(16)
      .tickFormat(function(d) { return String(+d.toFixed(2)); }));
  g.append("g")
    .call(d3.axisTop(x).tickValues(o.major).tickSize(-7).tickFormat(""));
  g.append("g")
    .call(d3.axisLeft(y).tickValues(yTicks).tickSizeInner(-7).tickSizeOuter(0).tickPadding(12)
      .tickFormat(function(d) { return String(d); }));
  g.append("g").attr("transform", "translate(" + w + ",0)")
    .call(d3.axisRight(y).tickValues(yTicks).tickSize(-7).tickFormat(""));

  g.selectAll(".domain").remove();
  g.selectAll(".tick line").attr("stroke", "#000").attr("stroke-width", 1);
  g.selectAll(".tick text").attr("font-size", 20).attr("fill", "#000")
    .attr("font-family", "'Liberation Sans', Arial, sans-serif");
  g.selectAll(".xlab .tick text").attr("dx", 3);

  // spectrum
  var line = d3.line()
    .x(function(d) { return x(d[0]); })
    .y(function(d) { return y(d[1]); });

  g.append("path")
    .datum(o.data)
    .attr("clip-path", "url(#" + clipId + ")")
    .attr("fill", "none")
    .attr("stroke", "#ff0000")
    .attr("stroke-width", 1.1)
    .attr("d", line);

  // frame
  g.append("rect")
    .attr("width", w).attr("height", h)
    .attr("fill", "none").attr("stroke", "#000").attr("stroke-width", 1.3);

  // axis titles
  g.append("text")
    .attr("x", w / 2 + 2).attr("y", h + 64)
    .attr("text-anchor", "middle").attr("font-size", 20)
    .text("\u03bb [\u03bcm]");
  g.append("text")
    .attr("transform", "translate(" + (-84) + "," + (h / 2) + ") rotate(-90)")
    .attr("text-anchor", "middle").attr("font-size", 20)
    .text("Transmission");

  // molecule labels
  o.labels.forEach(function(m) {
    var t = g.append("text")
      .attr("x", x(m[1]) + 1)
      .attr("y", m[3] ? y(0.94) : -7)
      .attr("text-anchor", "middle")
      .attr("font-size", 20)
      .attr("fill", molColor[m[2]]);
    formula(t, m[0]);
  });
}

drawPanel({
  id: "top", top: 33.7, bottom: 455,
  xDomain: [0.888, 5.61],
  major: d3.range(1, 5.51, 0.5),
  minor: d3.range(0.9, 5.61, 0.05),
  data: topSpectrum, labels: topMolecules
});

drawPanel({
  id: "bot", top: 623.3, bottom: 1044,
  xDomain: [6.897, 26.0],
  major: d3.range(8, 26.01, 2),
  minor: d3.range(7, 26.01, 0.2),
  data: botSpectrum, labels: botMolecules
});
</script>
</body>
</html>
